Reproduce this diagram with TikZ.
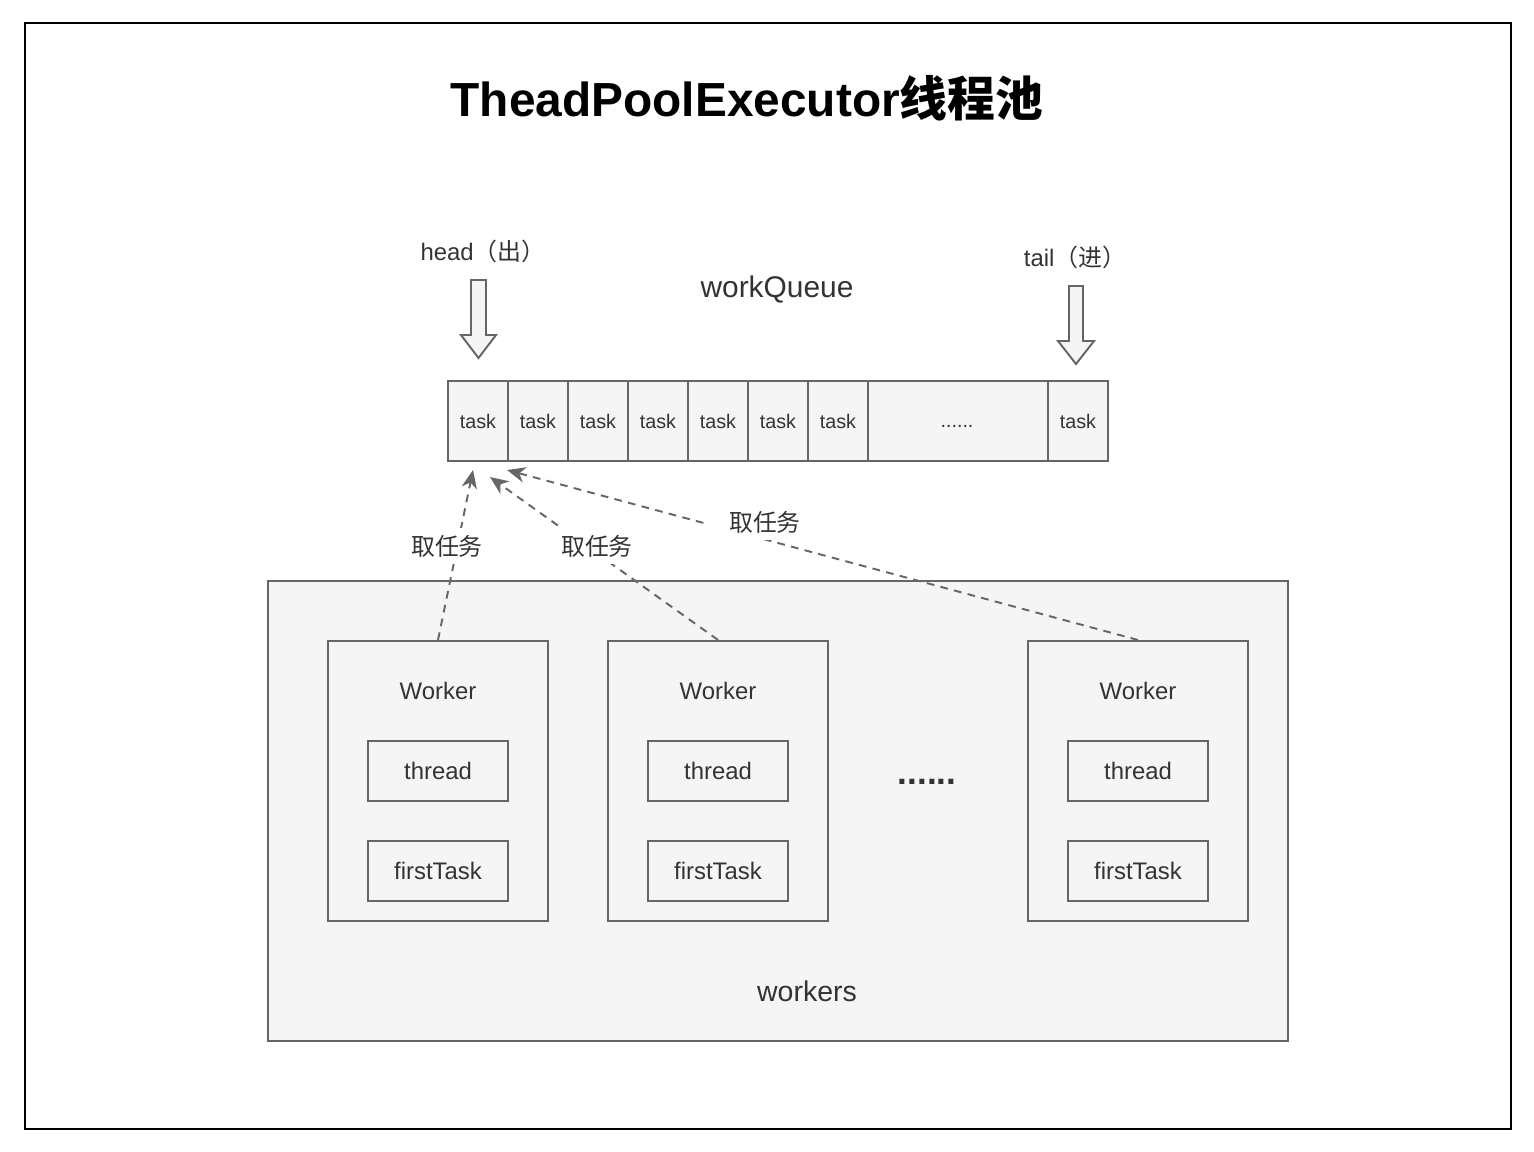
\documentclass[tikz,border=0pt]{standalone}
\usepackage{fontspec}
\setmainfont{Liberation Sans}
\newfontfamily\cjk{Noto Sans CJK SC}
\usetikzlibrary{arrows.meta,positioning}

\definecolor{boxfill}{HTML}{F5F5F5}
\definecolor{boxline}{HTML}{666666}
\definecolor{txt}{HTML}{333333}

\begin{document}
\begin{tikzpicture}[
    x=0.01cm, y=-0.01cm,
    box/.style={draw=boxline, fill=boxfill, line width=0.55pt, inner sep=0pt},
    cell/.style={box, minimum width=0.6cm, minimum height=0.8cm, font=\fontsize{5.6}{6}\selectfont, text=txt},
    worker/.style={box, minimum width=2.2cm, minimum height=2.8cm},
    field/.style={box, minimum width=1.4cm, minimum height=0.6cm, font=\fontsize{6.8}{8}\selectfont, text=txt},
    note/.style={font=\fontsize{6.8}{8}\selectfont, text=txt, inner sep=1pt},
    big/.style={font=\fontsize{8.3}{10}\selectfont, text=txt, inner sep=1pt},
    fetch/.style={boxline, line width=0.55pt, dash pattern=on 2.2pt off 1.8pt, -{Stealth[length=5.2pt, width=4.4pt, inset=1.6pt]}},
    fetchlbl/.style={note, fill=white, inner sep=2pt},
    blockarr/.style={draw=boxline, fill=boxfill, line width=0.55pt},
]
\useasboundingbox (0,0) rectangle (1534,1151);

% Outer frame
\draw[line width=0.6pt] (25,23) rectangle (1511,1129);

% Title
\node[font=\bfseries\fontsize{13.6}{16}\selectfont] (title) at (747,98) {TheadPoolExecutor{\cjk 线程池}};

% Work queue
\node[big, font=\fontsize{8.5}{10}\selectfont] (wqlbl) at (777,289) {workQueue};
\foreach \i in {1,...,7}
    \node[cell] (t\i) at ({418+60*\i},421) {task};
\node[cell, minimum width=1.8cm] (tdots) at (958,421) {};
\node[font=\fontsize{5.6}{6}\selectfont, text=txt, anchor=base] at (957,427) {......};
\node[cell] (tlast) at (1078,421) {task};

% head / tail markers
\node[note] (headlbl) at (483,251) {head{\cjk （出）}};
\draw[blockarr] (471,280) -- (486,280) -- (486,335) -- (496,335) -- (478.5,358)
    -- (461,335) -- (471,335) -- cycle;
\node[note] (taillbl) at (1075,257) {tail{\cjk （进）}};
\draw[blockarr] (1069,286) -- (1083,286) -- (1083,341) -- (1094,341) -- (1076,364)
    -- (1058,341) -- (1069,341) -- cycle;

% Workers
\node[box, minimum width=10.2cm, minimum height=4.6cm] (pool) at (778,811) {};
\node[big, font=\fontsize{8.1}{10}\selectfont] (poollbl) at (807,991) {workers};
\foreach \n/\x in {1/438, 2/718, 3/1138} {
    \node[worker] (w\n) at (\x,781) {};
    \node[note] (wl\n) at (\x,691) {Worker};
    \node[field] (th\n) at (\x,771) {thread};
    \node[field] (ft\n) at (\x,871) {firstTask};
}
\node[font=\bfseries\fontsize{10}{12}\selectfont, text=txt, anchor=base] (wdots) at (927,784) {......};

% Fetching tasks
\coordinate (in1) at (473,470);
\coordinate (in2) at (490,477);
\coordinate (in3) at (507,470);
\draw[fetch] (w1.north) -- (in1);
\draw[fetch] (w2.north) -- (in2);
\draw[fetch] (w3.north) -- (in3);
\node[fetchlbl] (f1) at (447,546) {\cjk 取任务};
\node[fetchlbl] (f2) at (597,546) {\cjk 取任务};
\node[fetchlbl, inner xsep=6pt] (f3) at (765,522) {\cjk 取任务};
\end{tikzpicture}
\end{document}
